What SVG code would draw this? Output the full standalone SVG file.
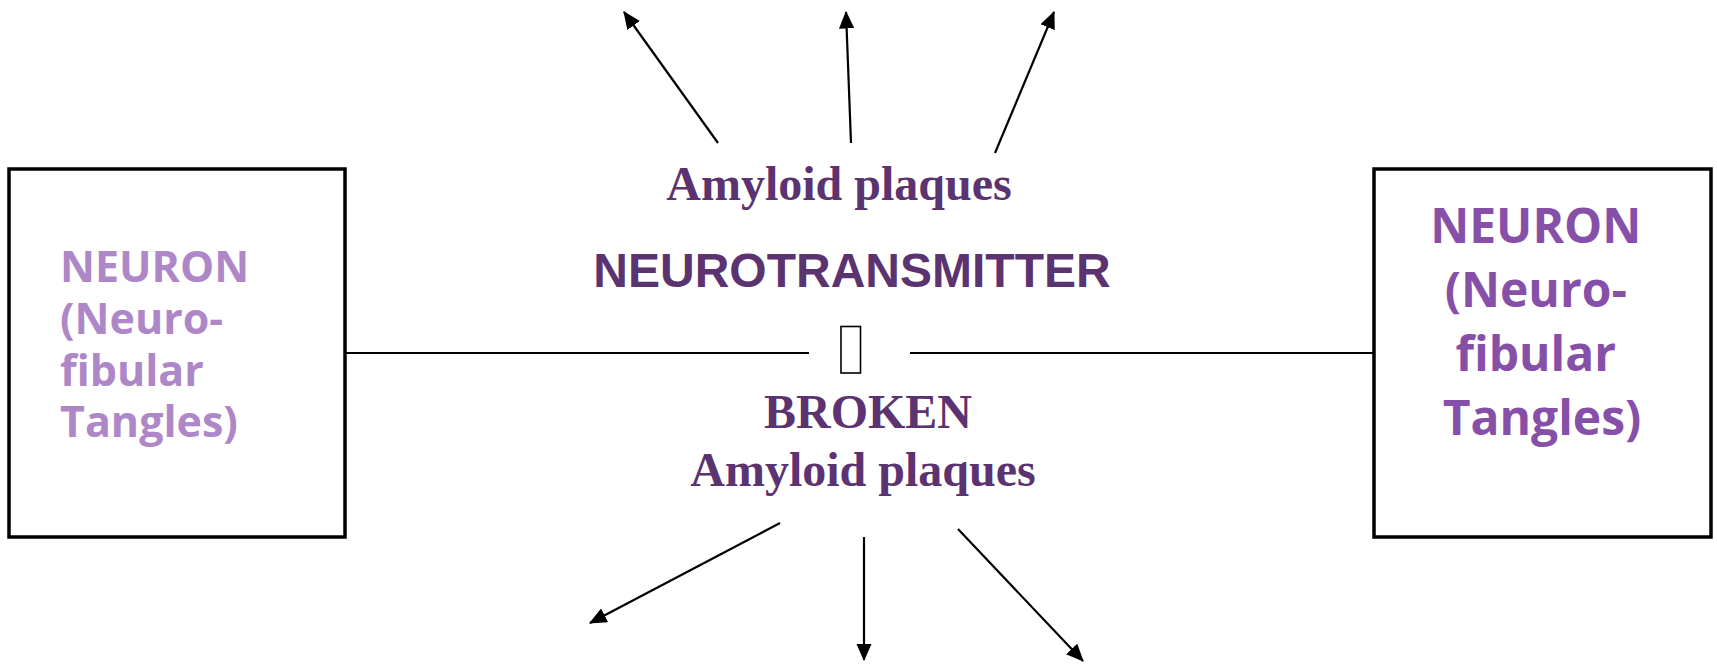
<svg xmlns="http://www.w3.org/2000/svg" width="1717" height="665" viewBox="0 0 1717 665">
<style>
.box{fill:#fff;stroke:#000;stroke-width:3.5}
.ln{stroke:#000;stroke-width:2;fill:none}
.arr{stroke:#000;stroke-width:2.2;fill:none;marker-end:url(#ah)}
.neu{font-family:"Open Sans","Noto Sans",sans-serif;font-weight:bold}
.tms{font-family:"Liberation Serif","Times New Roman",serif;font-weight:bold;fill:#5B3370}
.ari{font-family:"Liberation Sans",Arial,sans-serif;font-weight:bold;fill:#5B3370}
</style>
<defs>
<marker id="ah" markerWidth="8" markerHeight="7" refX="7.5" refY="3.5" orient="auto" markerUnits="strokeWidth">
<path d="M0,0 L8,3.5 L0,7 z" fill="#000"/>
</marker>
</defs>
<rect width="1717" height="665" fill="#fff"/>
<g id="neuron-left">
<rect class="box" x="9" y="169" width="336" height="368"/>
<text class="neu" fill="#AE87C8" font-size="43" x="60">
<tspan x="60" y="282">NEURON</tspan>
<tspan x="60" y="334">(Neuro-</tspan>
<tspan x="60" y="386">fibular</tspan>
<tspan x="60" y="437">Tangles)</tspan>
</text>
</g>
<g id="neuron-right">
<rect class="box" x="1374" y="169" width="337" height="368"/>
<text class="neu" fill="#8650A8" font-size="48" text-anchor="middle">
<tspan x="1542" y="243">NEURON</tspan>
<tspan x="1542" y="307">(Neuro-</tspan>
<tspan x="1542" y="371">fibular</tspan>
<tspan x="1542" y="435">Tangles)</tspan>
</text>
</g>
<g id="labels">
<text class="tms" font-size="48" x="839" y="200" text-anchor="middle">Amyloid plaques</text>
<text class="ari" font-size="48" x="852" y="287" text-anchor="middle">NEUROTRANSMITTER</text>
<text class="tms" font-size="48" x="868" y="428" text-anchor="middle">BROKEN</text>
<text class="tms" font-size="48" x="863" y="486" text-anchor="middle">Amyloid plaques</text>
</g>
<g id="connectors">
<line class="ln" x1="345" y1="353" x2="809" y2="353"/>
<line class="ln" x1="910" y1="353" x2="1374" y2="353"/>
<rect x="841" y="326.5" width="19.5" height="46.5" fill="none" stroke="#000" stroke-width="1.6"/>
<line class="arr" x1="718" y1="143" x2="624" y2="12"/>
<line class="arr" x1="851" y1="143" x2="846" y2="12"/>
<line class="arr" x1="995" y1="153" x2="1054" y2="12"/>
<line class="arr" x1="780" y1="523" x2="590" y2="623"/>
<line class="arr" x1="864" y1="537" x2="864" y2="660"/>
<line class="arr" x1="958" y1="529" x2="1083" y2="661"/>
</g>
</svg>
